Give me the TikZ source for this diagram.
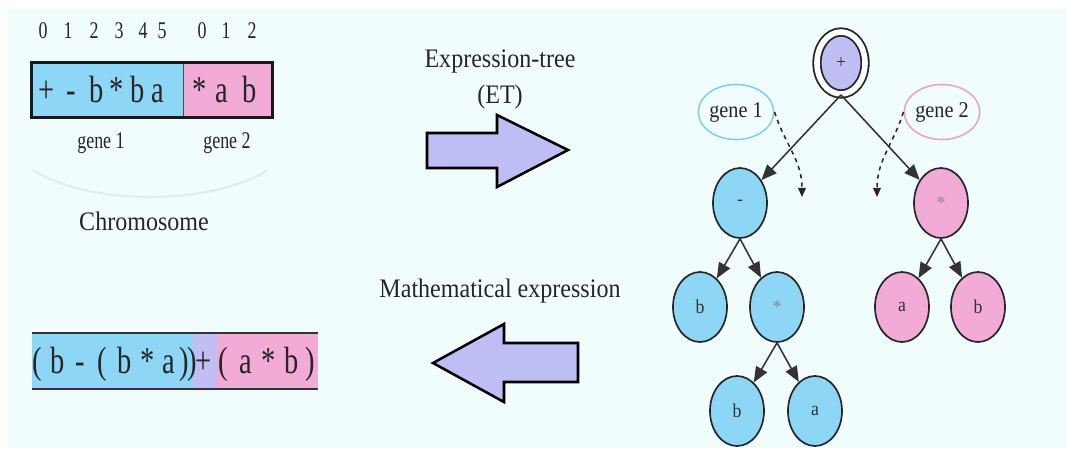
\documentclass[tikz,border=0pt]{standalone}
\usepackage{fontspec}
\setmainfont{Liberation Serif}
\newfontfamily\condfont[FakeStretch=0.9]{Liberation Serif}
\newfontfamily\narrowfont[FakeStretch=0.75]{Liberation Serif}
\usepackage{xcolor}
\usepackage{tikz}
\usetikzlibrary{arrows.meta,positioning,shapes}
\definecolor{bgcyan}{HTML}{F1FCFD}
\definecolor{geneblue}{HTML}{8ED6F5}
\definecolor{genepink}{HTML}{F2AAD6}
\definecolor{rootlav}{HTML}{C0BEF2}
\definecolor{arrowlav}{HTML}{BEBEF5}
\definecolor{ringblue}{HTML}{7FD0F0}
\definecolor{ringpink}{HTML}{EBA0CF}
\definecolor{arcgray}{HTML}{E2ECEF}
\tikzset{
  tnode/.style={ellipse,draw=black!85,line width=1.2pt,inner sep=0pt,
                minimum width=1.35cm,minimum height=1.75cm,
                font=\condfont\fontsize{14}{16}\selectfont,text=black!80},
  bnode/.style={tnode,fill=geneblue},
  pnode/.style={tnode,fill=genepink},
  rnode/.style={tnode,fill=rootlav,double=white,double distance=0.14cm,
                line width=1.3pt,minimum width=1.2cm,minimum height=1.55cm},
  glab/.style={ellipse,line width=1.1pt,inner sep=0pt,
               minimum width=1.65cm,minimum height=1.375cm,
               font=\condfont\fontsize{16}{18}\selectfont,text=black!85},
  arr/.style={-{Triangle[length=11pt,width=9pt]},line width=1.1pt,draw=black!80},
  darr/.style={-{Triangle[length=6.5pt,width=5.5pt]},dashed,line width=1.1pt,
               draw=black!85},
  bigarr/.style={draw=black,line width=1.8pt,fill=arrowlav,line join=miter},
  chr/.style={anchor=base,inner sep=0pt,font=\narrowfont\fontsize{27}{30}\selectfont,
              text=black!85},
  idx/.style={anchor=base,inner sep=0pt,font=\narrowfont\fontsize{17}{20}\selectfont,
              text=black!85},
  ttl/.style={anchor=base,inner sep=0pt,font=\condfont\fontsize{19}{22}\selectfont,
              text=black!85},
}

\begin{document}
\begin{tikzpicture}[x=0.025cm,y=-0.025cm]
\useasboundingbox (0,0) rectangle (1067,448);
\fill[bgcyan] (8,9) rectangle (1067,448);

%% ---------- chromosome (top left) ----------
\foreach \x/\c [count=\i] in {43/0,68/1,94/2,119/3,143/4,162/5,202/0,226/1,252/2}
  \node[idx] (i\i) at (\x,38) {\c};

\node[draw=black!70,line width=0.6pt,fill=geneblue,minimum width=3.775cm,
      minimum height=1.35cm] (c1) at (107.5,90) {};
\node[draw=black!70,line width=0.6pt,fill=genepink,minimum width=2.225cm,
      minimum height=1.35cm] (c2) at (227.5,90) {};
\draw[line width=1.8pt,black!90] (c1.north west) rectangle (c2.south east);

\foreach \x/\c [count=\i] in {47/+,71/-,97/b,117/*,138/b,158/a,200/*,222/a,250/b}
  \node[chr] (k\i) at (\x,102) {\c};

\node[idx] (gn1) at (101,148) {gene 1};
\node[idx] (gn2) at (227,148) {gene 2};
\draw[line width=1.5pt,arcgray] (33,170)
  .. controls (90,206) and (210,206) .. (268,170);
\node[ttl] (chrom) at (144,230) {Chromosome};

%% ---------- mathematical expression (bottom left) ----------
\fill[geneblue] (32,333) rectangle (193,389);
\fill[rootlav] (193,333) rectangle (217,389);
\fill[genepink] (217,333) rectangle (318,389);
\draw[line width=2pt,black!80] (32,333) -- (318,333);
\draw[line width=2pt,black!80] (32,389) -- (318,389);
\foreach \x/\c [count=\i] in {37/{(},58/b,80/-,102/{(},125/b,148/*,169/a,184/{)},
    192/{)},204/+,223/{(},246/a,269/*,292/b,310/{)}}
  \node[chr] (m\i) at (\x,373) {\c};

%% ---------- block arrows + captions ----------
\node[ttl] (ettl) at (500,67) {Expression-tree};
\node[ttl] (etet) at (500,103) {(ET)};
\draw[bigarr] (427,133) -- (497,133) -- (497,115) -- (568,150)
  -- (497,187) -- (497,168) -- (427,168) -- cycle;
\node[ttl] (mttl) at (500,297) {Mathematical expression};
\draw[bigarr] (578,343) -- (504,343) -- (504,324) -- (433,363)
  -- (504,402) -- (504,382) -- (578,382) -- cycle;

%% ---------- expression tree (right) ----------
\node[rnode] (root) at (841,63) {+};
\node[bnode] (minus) at (740,203) {-};
\node[pnode] (st2) at (941,203) {\textcolor{black!45}{*}};
\node[bnode] (b1) at (700,307) {b};
\node[bnode] (st1) at (777,307) {\textcolor{black!45}{*}};
\node[pnode] (a3) at (902,307) {a};
\node[pnode] (b3) at (978,307) {b};
\node[bnode] (b2) at (737,411) {b};
\node[bnode] (a2) at (815,411) {a};

\node[glab,draw=ringblue] (g1) at (736,112) {gene 1};
\node[glab,draw=ringpink] (g2) at (942,112) {gene 2};

\draw[arr] (root.south) -- (minus);
\draw[arr] (root.south) -- (st2);
\draw[arr] (minus.south) -- (b1);
\draw[arr] (minus.south) -- (st1);
\draw[arr] (st1.south) -- (b2);
\draw[arr] (st1.south) -- (a2);
\draw[arr] (st2.south) -- (a3);
\draw[arr] (st2.south) -- (b3);

%% gene markers
\coordinate (d1) at (802,197);
\coordinate (d2) at (877,197);
\draw[darr] (g1.east) .. controls (785,145) and (802,160) .. (d1);
\draw[darr] (g2.west) .. controls (893,145) and (877,160) .. (d2);
\end{tikzpicture}
\end{document}
